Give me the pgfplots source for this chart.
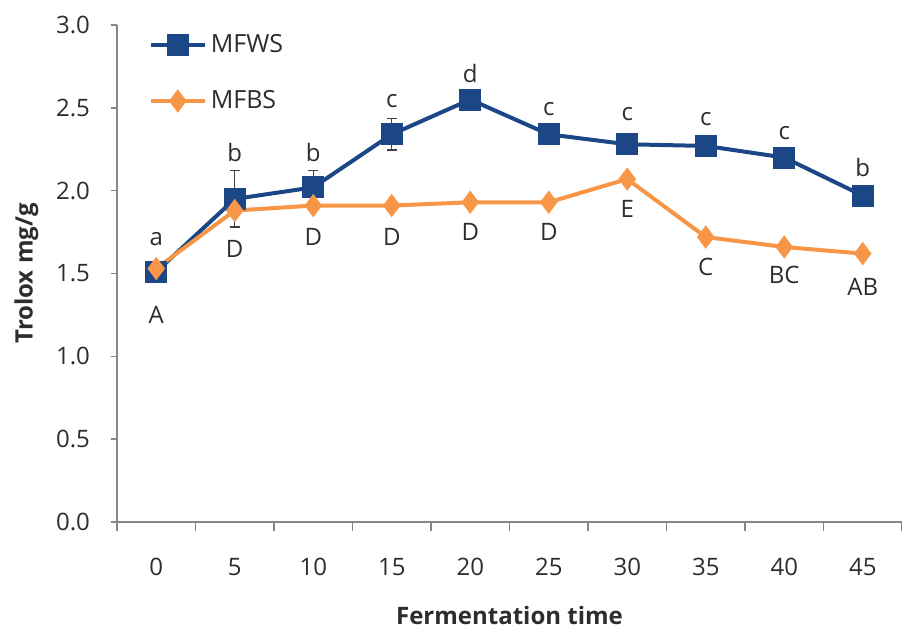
\documentclass[border=0pt]{standalone}
\usepackage{pgfplots}
\pgfplotsset{compat=1.18}
\usepackage{pgfplotstable}
\usepackage{fontspec}
\setmainfont{Open Sans}

\definecolor{wsblue}{RGB}{27,71,135}
\definecolor{bsorange}{RGB}{247,150,70}
\definecolor{axisgray}{RGB}{134,134,134}
\definecolor{txt}{RGB}{45,45,45}

% fermentation day index (0 = day 0, ..., 9 = day 45), mean, error
\pgfplotstableread{
x  y     e
0  1.51  0.02
1  1.95  0.17
2  2.02  0.10
3  2.34  0.095
4  2.55  0.02
5  2.34  0.02
6  2.28  0.02
7  2.27  0.02
8  2.20  0.02
9  1.97  0.02
}\mfws

\pgfplotstableread{
x  y     e
0  1.53  0.02
1  1.88  0.02
2  1.91  0.02
3  1.91  0.02
4  1.93  0.02
5  1.93  0.02
6  2.07  0.02
7  1.72  0.02
8  1.66  0.02
9  1.62  0.02
}\mfbs

% significance letters and where they sit
\pgfplotstableread{
x  y     lab
0  1.71  a
1  2.23  b
2  2.23  b
3  2.54  c
4  2.71  d
5  2.49  c
6  2.46  c
7  2.43  c
8  2.35  c
9  2.14  b
}\mfwslab

\pgfplotstableread{
x  y     lab
0  1.25  A
1  1.65  D
2  1.72  D
3  1.72  D
4  1.75  D
5  1.75  D
6  1.89  E
7  1.54  C
8  1.49  BC
9  1.42  AB
}\mfbslab

\begin{document}
\begin{tikzpicture}
\begin{axis}[
  scale only axis,
  width=392.5pt, height=248.5pt,
  xmin=-0.5, xmax=9.5, ymin=0, ymax=3,
  axis x line*=bottom, axis y line*=left,
  axis line style={axisgray, line width=0.8pt},
  tick align=outside,
  xtick={0,...,9},
  xticklabels={0,5,10,15,20,25,30,35,40,45},
  minor xtick={-0.5,0.5,...,9.5},
  major x tick style={draw=none},
  minor x tick style={axisgray, line width=0.8pt},
  minor tick length=4.5pt,
  major tick length=3pt,
  ytick={0,0.5,...,3},
  ytick style={axisgray, line width=0.8pt},
  /pgf/number format/fixed,
  /pgf/number format/fixed zerofill,
  /pgf/number format/precision=1,
  /pgf/number format/assume math mode=true,
  tick label style={font=\fontsize{12}{14}\selectfont, text=txt},
  xticklabel style={yshift=-11.5pt},
  yticklabel style={xshift=-7pt},
  xlabel={\textbf{Fermentation time}},
  ylabel={\textbf{Trolox mg/g}},
  label style={font=\fontsize{12}{14}\selectfont, text=txt},
  xlabel style={yshift=-8.5pt},
  ylabel style={yshift=2pt},
  legend style={at={(0.04,0.99)}, anchor=north west, draw=none, fill=none,
    font=\fontsize{12.5}{14}\selectfont, text=txt, row sep=13.5pt, inner sep=0pt},
  legend cell align=left,
  legend image code/.code={
    \draw[mark repeat=2, mark phase=2] plot coordinates {(0pt,0pt) (13.5pt,0pt) (27pt,0pt)};
  },
]
\addplot[wsblue, line width=2pt, mark=square*, mark size=4.5pt,
  mark options={solid},
  error bars/.cd, y dir=both, y explicit,
  error bar style={black!75, line width=0.7pt},
  error mark options={rotate=90, mark size=2.5pt, black!75, line width=0.7pt}]
  table[x=x, y=y, y error=e] {\mfws};
\addlegendentry{MFWS}

\addplot[bsorange, line width=2pt, mark=diamond*, mark size=4.2pt,
  mark options={solid},
  error bars/.cd, y dir=both, y explicit,
  error bar style={black!75, line width=0.7pt},
  error mark options={rotate=90, mark size=2.5pt, black!75, line width=0.7pt}]
  table[x=x, y=y, y error=e] {\mfbs};
\addlegendentry{MFBS}

\addplot[draw=none, mark=none, forget plot,
  nodes near coords, point meta=explicit symbolic,
  nodes near coords style={anchor=center, font=\fontsize{12}{14}\selectfont, text=txt}]
  table[x=x, y=y, meta=lab] {\mfwslab};
\addplot[draw=none, mark=none, forget plot,
  nodes near coords, point meta=explicit symbolic,
  nodes near coords style={anchor=center, font=\fontsize{12}{14}\selectfont, text=txt}]
  table[x=x, y=y, meta=lab] {\mfbslab};
\end{axis}
% page frame: plot area sits 58.5pt from the left and 55pt above the bottom
\pgfresetboundingbox
\path (-58.5pt,-55pt) rectangle (392.5pt,261pt);
\end{tikzpicture}
\end{document}
